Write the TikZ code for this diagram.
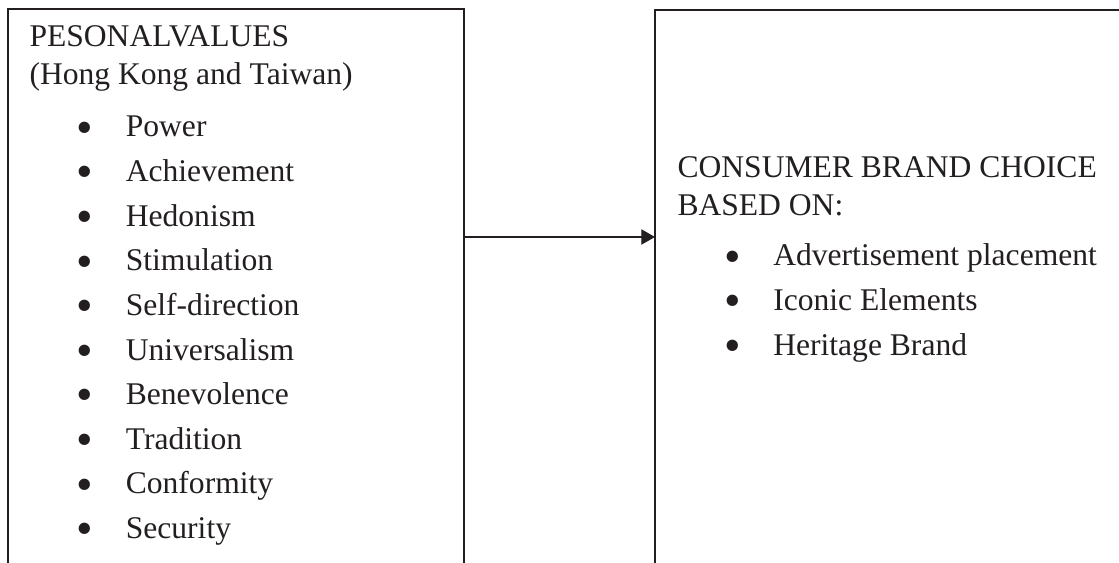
\documentclass[tikz,border=0pt]{standalone}
\usepackage{fontspec}
\setmainfont{Liberation Serif}
\usetikzlibrary{arrows.meta}
\usetikzlibrary{positioning}
\definecolor{ink}{RGB}{35,31,32}
\tikzstyle{frame} = [rectangle, minimum width=172.9pt, minimum height=212.8pt, inner sep=0pt]
\tikzstyle{side} = [draw=ink, line width=0.8pt]
\tikzstyle{txt} = [inner sep=0pt, text=ink, font=\fontsize{12}{14}\selectfont, anchor=base west]
\tikzstyle{link} = [draw=ink, line width=0.45pt, -{Triangle[length=5.2pt,width=5.8pt]}]
\newcommand{\bul}{\makebox[17.6pt][l]{\hspace{2.1pt}\makebox[0pt][c]{\fontsize{18}{18}\selectfont\raisebox{-2.4pt}{\textbullet}}}}

\begin{document}
\begin{tikzpicture}[x=0.38pt, y=-0.38pt, node distance=16.95pt]
  \useasboundingbox (0,0) rectangle (1119,563);
  \clip (0,0) rectangle (1119,563);
  \node (values) [frame, anchor=north west] at (8,9) {};
  \node (choice) [frame, anchor=north west, minimum width=190pt] at (655,10) {};
  \coordinate (mid) at (0,237);

  % personal values
  \node (pv)    [txt] at (29,47) {PESONALVALUES};
  \node (hk)    [txt, below=14.4pt of pv.base west, anchor=base west] {(Hong Kong and Taiwan)};
  \node (power) [txt, below=19.8pt of hk.base west, anchor=base west, xshift=19pt] {\bul Power};
  \node (achv)  [txt, below=of power.base west, anchor=base west] {\bul Achievement};
  \node (hedo)  [txt, below=of achv.base west, anchor=base west] {\bul Hedonism};
  \node (stim)  [txt, below=of hedo.base west, anchor=base west] {\bul Stimulation};
  \node (self)  [txt, below=of stim.base west, anchor=base west] {\bul Self-direction};
  \node (univ)  [txt, below=of self.base west, anchor=base west] {\bul Universalism};
  \node (bene)  [txt, below=of univ.base west, anchor=base west] {\bul Benevolence};
  \node (trad)  [txt, below=of bene.base west, anchor=base west] {\bul Tradition};
  \node (conf)  [txt, below=of trad.base west, anchor=base west] {\bul Conformity};
  \node (secu)  [txt, below=of conf.base west, anchor=base west] {\bul Security};

  % brand choice
  \node (cbc)   [txt] at (677,178) {CONSUMER BRAND CHOICE};
  \node (based) [txt, below=14.4pt of cbc.base west, anchor=base west] {BASED ON:};
  \node (advt)  [txt, below=19pt of based.base west, anchor=base west, xshift=18.8pt] {\bul Advertisement placement};
  \node (icon)  [txt, below=of advt.base west, anchor=base west] {\bul Iconic Elements};
  \node (heri)  [txt, below=of icon.base west, anchor=base west] {\bul Heritage Brand};

  \draw[side] (values.south west) -- (values.north west) -- (values.north east) -- (values.south east);
  \draw[side] (choice.south west) -- (choice.north west) -- (choice.north east);
  \draw[link] (values.east |- mid) -- (choice.west |- mid);
\end{tikzpicture}
\end{document}
